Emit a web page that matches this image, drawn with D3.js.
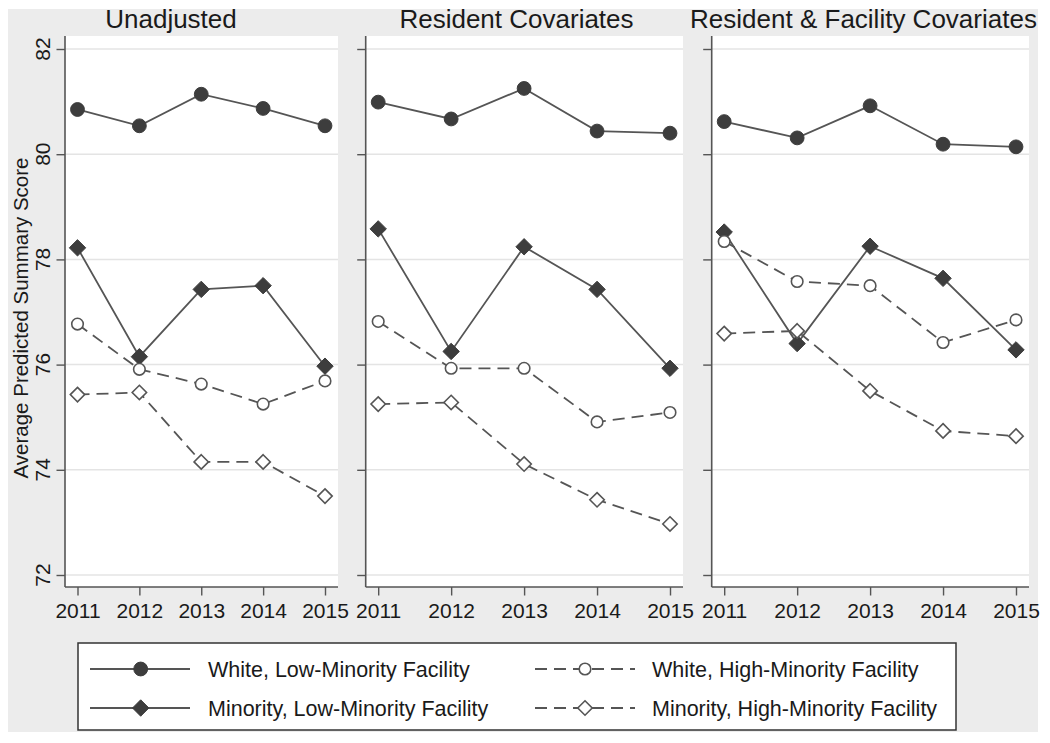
<!DOCTYPE html>
<html>
<head>
<meta charset="utf-8">
<script src="https://cdn.jsdelivr.net/npm/d3@7"></script>
<style>
  html, body { margin: 0; padding: 0; background: #ffffff; }
  svg { display: block; }
  text { font-family: "Liberation Sans", Arial, sans-serif; fill: #1a1a1a; }
</style>
</head>
<body>
<svg id="chart" width="1050" height="743"></svg>
<script>
// ---------------- data ----------------
const years = [2011, 2012, 2013, 2014, 2015];
const panelTitles = ["Unadjusted", "Resident Covariates", "Resident & Facility Covariates"];
const seriesNames = [
  "White, Low-Minority Facility",
  "Minority, Low-Minority Facility",
  "White, High-Minority Facility",
  "Minority, High-Minority Facility"
];
// one row per panel (Unadjusted, Resident, Resident & Facility)
const whiteLow = [
  [80.85, 80.54, 81.14, 80.87, 80.54],
  [80.99, 80.67, 81.25, 80.44, 80.40],
  [80.62, 80.31, 80.92, 80.19, 80.14]
];
const minorityLow = [
  [78.22, 76.15, 77.43, 77.50, 75.97],
  [78.58, 76.25, 78.24, 77.43, 75.93],
  [78.52, 76.40, 78.25, 77.64, 76.28]
];
const whiteHigh = [
  [76.77, 75.91, 75.63, 75.25, 75.69],
  [76.82, 75.93, 75.93, 74.91, 75.09],
  [78.34, 77.58, 77.50, 76.42, 76.85]
];
const minorityHigh = [
  [75.43, 75.47, 74.15, 74.15, 73.50],
  [75.25, 75.28, 74.11, 73.43, 72.97],
  [76.59, 76.64, 75.50, 74.74, 74.64]
];
const yTicks = [72, 74, 76, 78, 80, 82];
const yAxisTitle = "Average Predicted Summary Score";

// ---------------- styles / layout ----------------
const allSeries = [whiteLow, minorityLow, whiteHigh, minorityHigh];
const seriesStyle = [
  { dash: null,   shape: "circle",  filled: true },
  { dash: null,   shape: "diamond", filled: true },
  { dash: "12,7", shape: "circle",  filled: false },
  { dash: "12,7", shape: "diamond", filled: false }
];
const lineColor = "#555555";
const fillColor = "#3d3d3d";
const gridColor = "#e4e4e4";
const axisColor = "#555555";

const panelBoxes = [
  { x0: 65,    x1: 338,  titleX: 171 },
  { x0: 365.7, x1: 683,  titleX: 516.5 },
  { x0: 711.7, x1: 1029, titleX: 863.5 }
];
const plotTop = 36, plotBottom = 587;

const svg = d3.select("#chart");

// outer gray graph region
svg.append("rect").attr("x", 8).attr("y", 9).attr("width", 1030).attr("height", 723)
  .attr("fill", "#ececec");

const y = d3.scaleLinear().domain([72, 82]).range([575, 49]);

function symbolPath(shape, filled) {
  if (shape === "circle") return d3.symbol().type(d3.symbolCircle).size(filled ? 150 : 105)();
  const s = filled ? 8.2 : 7.2;
  return `M0,${-s}L${s},0L0,${s}L${-s},0Z`;
}

panelBoxes.forEach((pb, pi) => {
  const g = svg.append("g");
  const x = d3.scaleLinear().domain([2011, 2015]).range([pb.x0 + 12.5, pb.x1 - 13]);

  // white plot region
  g.append("rect").attr("x", pb.x0).attr("y", plotTop)
    .attr("width", pb.x1 - pb.x0).attr("height", plotBottom - plotTop).attr("fill", "#ffffff");

  // gridlines
  g.selectAll(".grid").data(yTicks).join("line")
    .attr("x1", pb.x0).attr("x2", pb.x1)
    .attr("y1", d => y(d)).attr("y2", d => y(d))
    .attr("stroke", gridColor).attr("stroke-width", 1.5);

  // y axis
  const yAxis = d3.axisLeft(y).tickValues(yTicks).tickSize(8.5).tickPadding(0).tickFormat(() => "");
  const ya = g.append("g").attr("transform", `translate(${pb.x0},0)`).call(yAxis);
  ya.select(".domain").attr("d", `M0,${plotTop}V${plotBottom}`).attr("stroke", axisColor).attr("stroke-width", 1.6);
  ya.selectAll(".tick line").attr("stroke", axisColor).attr("stroke-width", 1.4);

  // y tick labels (rotated) only on first panel
  if (pi === 0) {
    g.selectAll(".ylab").data(yTicks).join("text")
      .attr("transform", d => `translate(49.5,${y(d)}) rotate(-90)`)
      .attr("text-anchor", "middle")
      .attr("font-size", 21)
      .text(d => d);
    g.append("text")
      .attr("transform", `translate(27.5,318) rotate(-90)`)
      .attr("text-anchor", "middle")
      .attr("font-size", 20.5)
      .text(yAxisTitle);
  }

  // x axis
  const xAxis = d3.axisBottom(x).tickValues(years).tickSize(8.5).tickPadding(7.5).tickFormat(d3.format("d"));
  const xa = g.append("g").attr("transform", `translate(0,${plotBottom})`).call(xAxis);
  xa.select(".domain").attr("d", `M${pb.x0},0H${pb.x1}`).attr("stroke", axisColor).attr("stroke-width", 1.6);
  xa.selectAll(".tick line").attr("stroke", axisColor).attr("stroke-width", 1.4);
  xa.selectAll(".tick text").attr("font-size", 21).attr("font-family", "Liberation Sans, Arial, sans-serif")
    .attr("fill", "#1a1a1a");

  // title
  g.append("text").attr("x", pb.titleX).attr("y", 28).attr("text-anchor", "middle")
    .attr("font-size", 26).text(panelTitles[pi]);

  // lines
  const line = d3.line().x((d, i) => x(years[i])).y(d => y(d));
  allSeries.forEach((ser, si) => {
    const st = seriesStyle[si];
    g.append("path").datum(ser[pi]).attr("d", line)
      .attr("fill", "none").attr("stroke", lineColor).attr("stroke-width", 1.8)
      .attr("stroke-dasharray", st.dash);
  });
  // markers
  allSeries.forEach((ser, si) => {
    const st = seriesStyle[si];
    g.selectAll(".m" + si).data(ser[pi]).join("path")
      .attr("transform", (d, i) => `translate(${x(years[i])},${y(d)})`)
      .attr("d", symbolPath(st.shape, st.filled))
      .attr("fill", st.filled ? fillColor : "#ffffff")
      .attr("stroke", st.filled ? fillColor : lineColor)
      .attr("stroke-width", st.filled ? 1 : 1.6);
  });
});

// ---------------- legend ----------------
const lg = svg.append("g");
lg.append("rect").attr("x", 78).attr("y", 643).attr("width", 878).attr("height", 87)
  .attr("fill", "#ffffff").attr("stroke", "#333333").attr("stroke-width", 1.5);
const legendPos = [
  { lx: 90,  mx: 140.7, tx: 208, ty: 669 },
  { lx: 90,  mx: 140.7, tx: 208, ty: 708 },
  { lx: 535, mx: 585,   tx: 652, ty: 669 },
  { lx: 535, mx: 585,   tx: 652, ty: 708 }
];
seriesNames.forEach((name, si) => {
  const p = legendPos[si], st = seriesStyle[si];
  lg.append("line").attr("x1", p.lx).attr("x2", p.lx + 100).attr("y1", p.ty).attr("y2", p.ty)
    .attr("stroke", lineColor).attr("stroke-width", 1.8).attr("stroke-dasharray", st.dash);
  lg.append("path").attr("transform", `translate(${p.mx},${p.ty})`)
    .attr("d", symbolPath(st.shape, st.filled))
    .attr("fill", st.filled ? fillColor : "#ffffff")
    .attr("stroke", st.filled ? fillColor : lineColor)
    .attr("stroke-width", st.filled ? 1 : 1.6);
  lg.append("text").attr("x", p.tx).attr("y", p.ty).attr("dy", "0.36em")
    .attr("font-size", 21.5).text(name);
});
</script>
</body>
</html>
